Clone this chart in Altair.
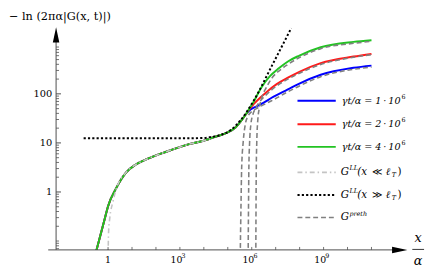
import altair as alt
import pandas as pd

# ---- data: x/alpha  vs  -ln(2 pi alpha |G(x,t)|) ----
# part shared by the three gamma t / alpha curves
common_x = [0.282, 0.733, 1.0, 2.19, 5.62, 14.5, 43.7, 288, 1905, 12600, 23400, 51300, 83200, 214000, 398000, 562000]
common_y = [0.049, 0.288, 0.513, 1.20, 2.48, 3.63, 4.72, 6.70, 9.12, 11.5, 12.9, 14.5, 15.8, 20.9, 30.2, 38.0]

blue_x = [891000, 1.66e6, 3.16e6, 6.76e6, 3.24e7, 9.77e7, 7.59e8, 1.78e10, 1e11]
blue_y = [47.9, 56.2, 66.1, 83.2, 123, 162, 245, 339, 376]
red_x = [891000, 1.26e6, 2.24e6, 3.98e6, 1.1e7, 3.24e7, 9.77e7, 7.59e8, 1.78e10, 1e11]
red_y = [52.5, 63.1, 83.2, 107, 158, 214, 282, 423, 575, 652]
green_x = [891000, 1.2e6, 2.45e6, 5.75e6, 1.35e7, 3.24e7, 9.77e7, 7.59e8, 1.78e10, 1e11]
green_y = [55.0, 69.2, 132, 229, 331, 457, 603, 891, 1148, 1242]

# G^LL (x << l_T)
ll_small_x = [1.0, 1.05, 1.175, 1.6, 2.19, 5.62, 14.5, 43.7, 288, 1905, 12600, 23400]
ll_small_y = [0.045, 0.15, 0.288, 0.63, 1.15, 2.48, 3.63, 4.72, 6.70, 9.12, 11.5, 12.9]
# G^LL (x >> l_T)
ll_large_x = [0.0955, 1000, 10000, 20000, 51300, 132000, 339000, 1.2e6, 7.24e6, 4.47e7]
ll_large_y = [12.4, 12.4, 12.6, 13.2, 14.5, 18.2, 28.8, 72.4, 389, 2188]

# G^preth for the three times
preth1_x = [331000, 355000, 380000, 437000, 550000, 708000, 1e6, 1.58e6, 3.16e6, 6.76e6, 3.24e7, 9.77e7, 7.59e8, 1.78e10, 1e11]
preth1_y = [0.05, 0.5, 3.16, 10.0, 25.1, 35.5, 43.7, 50.1, 60.3, 72.4, 110, 145, 224, 316, 351]
preth2_x = [708000, 733000, 759000, 813000, 933000, 1.12e6, 1.41e6, 2.0e6, 3.98e6, 1.1e7, 3.24e7, 9.77e7, 7.59e8, 1.78e10, 1e11]
preth2_y = [0.05, 0.5, 3.16, 10, 25.1, 38.0, 50.1, 66.1, 95.5, 145, 200, 263, 398, 556, 631]
preth4_x = [1.48e6, 1.51e6, 1.55e6, 1.62e6, 1.78e6, 2.09e6, 2.69e6, 3.98e6, 6.92e6, 1.48e7, 3.24e7, 9.77e7, 7.59e8, 1.78e10, 1e11]
preth4_y = [0.05, 0.5, 3.16, 10, 28.2, 52.5, 87.1, 132, 209, 302, 398, 550, 832, 1072, 1175]

# ticks and tick labels
y_major = [1, 10, 100]
y_major_labels = ["1", "10", "100"]
y_minor = [0.07, 0.08, 0.09, 0.1, 0.2, 0.3, 0.4, 0.5, 0.6, 0.7, 0.8, 0.9,
           2, 3, 4, 5, 6, 7, 8, 9, 20, 30, 40, 50, 60, 70, 80, 90,
           200, 300, 400, 500, 600, 700, 800, 900]
x_ticks = [1, 10, 100, 1e3, 1e4, 1e5, 1e6, 1e7, 1e8, 1e9, 1e10, 1e11]
x_label_pow = [1e3, 1e6, 1e9]
x_label_exp = ["3", "6", "9"]

legend_labels = ["1", "2", "4"]

# ---- chart ----
W, H = 358, 227
xs = alt.Scale(type="log", domain=[0.00676, 3.16e12], nice=False)
ys = alt.Scale(type="log", domain=[0.066, 2290], nice=False)
FONT = "DejaVu Serif"
AX = "#4d4d4d"
BLUE, RED, GREEN = "#0000ff", "#ff1a1a", "#22c322"
LGRAY, DGRAY = "#c4c4c4", "#808080"
DASHDOT, DOTTED, DASHED = [5, 3, 1.5, 3], [2.2, 2.2], [5, 3]
blank = alt.Data(values=[{}])
TS = "\u2009"  # thin space


def curve(xv, yv, color, width, dash=None):
    df = pd.DataFrame({"x": xv, "y": yv})
    kw = dict(color=color, strokeWidth=width, clip=True, interpolate="monotone")
    if dash is not None:
        kw["strokeDash"] = dash
    return alt.Chart(df).mark_line(**kw).encode(
        x=alt.X("x:Q", scale=xs, axis=None),
        y=alt.Y("y:Q", scale=ys, axis=None),
    )


def text(s, x, y, size=12, italic=False, align="left"):
    kw = dict(text=s, font=FONT, fontSize=size, align=align, baseline="middle", color="black")
    if italic:
        kw["fontStyle"] = "italic"
    return alt.Chart(blank).mark_text(**kw).encode(x=alt.value(x), y=alt.value(y))


def seg(color, width, y, dash=None):
    kw = dict(color=color, strokeWidth=width)
    if dash is not None:
        kw["strokeDash"] = dash
    return alt.Chart(blank).mark_rule(**kw).encode(
        x=alt.value(246), x2=alt.value(285), y=alt.value(y))


layers = []
# data curves
layers.append(curve(common_x + blue_x, common_y + blue_y, BLUE, 2))
layers.append(curve(common_x + red_x, common_y + red_y, RED, 2))
layers.append(curve(common_x + green_x, common_y + green_y, GREEN, 2))
layers.append(curve(ll_small_x, ll_small_y, LGRAY, 1.6, DASHDOT))
layers.append(curve(ll_large_x, ll_large_y, "black", 2, DOTTED))
layers.append(curve(preth1_x, preth1_y, DGRAY, 1.6, DASHED))
layers.append(curve(preth2_x, preth2_y, DGRAY, 1.6, DASHED))
layers.append(curve(preth4_x, preth4_y, DGRAY, 1.6, DASHED))

# axes lines
layers.append(alt.Chart(blank).mark_rule(color=AX, strokeWidth=1).encode(
    x=alt.value(-8), x2=alt.value(350), y=alt.value(H)))
layers.append(alt.Chart(blank).mark_rule(color=AX, strokeWidth=1).encode(
    x=alt.value(0), y=alt.value(H), y2=alt.value(10)))
# arrow heads
layers.append(alt.Chart(blank).mark_point(
    shape="M0,0L-2.6,-0.55L-2.6,0.55Z", size=144, filled=True, color="black",
    opacity=1, strokeWidth=0).encode(x=alt.value(W), y=alt.value(H)))
layers.append(alt.Chart(blank).mark_point(
    shape="M0,0L-0.55,2.6L0.55,2.6Z", size=144, filled=True, color="black",
    opacity=1, strokeWidth=0).encode(x=alt.value(0), y=alt.value(0)))

# y ticks
layers.append(alt.Chart(pd.DataFrame({"v": y_major})).mark_rule(color=AX, strokeWidth=1).encode(
    y=alt.Y("v:Q", scale=ys, axis=None), x=alt.value(0), x2=alt.value(5)))
layers.append(alt.Chart(pd.DataFrame({"v": y_minor})).mark_rule(color=AX, strokeWidth=0.8).encode(
    y=alt.Y("v:Q", scale=ys, axis=None), x=alt.value(0), x2=alt.value(3)))
# x ticks
layers.append(alt.Chart(pd.DataFrame({"v": x_ticks})).mark_rule(color=AX, strokeWidth=0.8).encode(
    x=alt.X("v:Q", scale=xs, axis=None), y=alt.value(H), y2=alt.value(H - 3)))

# y tick labels
layers.append(alt.Chart(pd.DataFrame({"v": y_major, "t": y_major_labels})).mark_text(
    font=FONT, fontSize=10, align="right", baseline="middle", color="black").encode(
    y=alt.Y("v:Q", scale=ys, axis=None), x=alt.value(-4), text="t:N"))
# x tick labels
layers.append(alt.Chart(pd.DataFrame({"v": [1], "t": ["1"]})).mark_text(
    font=FONT, fontSize=9.5, align="center", baseline="middle", color="black").encode(
    x=alt.X("v:Q", scale=xs, axis=None), y=alt.value(H + 10), text="t:N"))
layers.append(alt.Chart(pd.DataFrame({"v": x_label_pow, "t": ["10"] * 3})).mark_text(
    font=FONT, fontSize=9.5, align="center", baseline="middle", color="black", dx=-3.5).encode(
    x=alt.X("v:Q", scale=xs, axis=None), y=alt.value(H + 10), text="t:N"))
layers.append(alt.Chart(pd.DataFrame({"v": x_label_pow, "t": x_label_exp})).mark_text(
    font=FONT, fontSize=6.5, align="center", baseline="middle", color="black", dx=3.8).encode(
    x=alt.X("v:Q", scale=xs, axis=None), y=alt.value(H + 6), text="t:N"))

# axis titles
layers.append(text("\u2212 ln (2\u03c0\u03b1|G(x, t)|)", -48, -10, 11.5))
layers.append(text("x", 369, 215, 13, italic=True, align="center"))
layers.append(alt.Chart(blank).mark_rule(color="black", strokeWidth=0.8).encode(
    x=alt.value(363), x2=alt.value(375), y=alt.value(226.5)))
layers.append(text("\u03b1", 369, 238, 13, italic=True, align="center"))

# legend
rows = [75, 99, 122, 148, 171, 194]
for col, lab, yy in zip([BLUE, RED, GREEN], legend_labels, rows[:3]):
    layers.append(seg(col, 2, yy))
    layers.append(text("\u03b3t/\u03b1 = " + lab + TS + "\u00b7" + TS + "10", 351, yy, 9.8,
                       italic=True, align="right"))
    layers.append(text("6", 352, yy - 4, 6.5))
layers.append(seg(LGRAY, 1.6, rows[3], DASHDOT))
layers.append(seg("black", 2, rows[4], DOTTED))
layers.append(seg(DGRAY, 1.6, rows[5], DASHED))
for yy in rows[3:5]:
    layers.append(text("G", 290, yy, 10.5, italic=True))
    layers.append(text("LL", 299, yy - 4, 6.5, italic=True))
    layers.append(text("(x", 307, yy, 10.5, italic=True))
layers.append(text("\u226a", 322, rows[3], 10))
layers.append(text("\u226b", 322, rows[4], 10))
for yy in rows[3:5]:
    layers.append(text("\u2113", 336, yy, 10.5, italic=True))
    layers.append(text("T", 342, yy + 3, 6.5, italic=True))
    layers.append(text(")", 348, yy, 10.5))
layers.append(text("G", 290, rows[5], 10.5, italic=True))
layers.append(text("preth", 299, rows[5] - 4, 6.5, italic=True))

chart = alt.layer(*layers).properties(
    width=W, height=H,
    padding={"left": 49, "top": 17, "right": 21, "bottom": 19},
    autosize=alt.AutoSizeParams(type="none"),
).configure_view(stroke=None)

chart.save("out.html", embed_options={"renderer": "svg", "actions": False})
